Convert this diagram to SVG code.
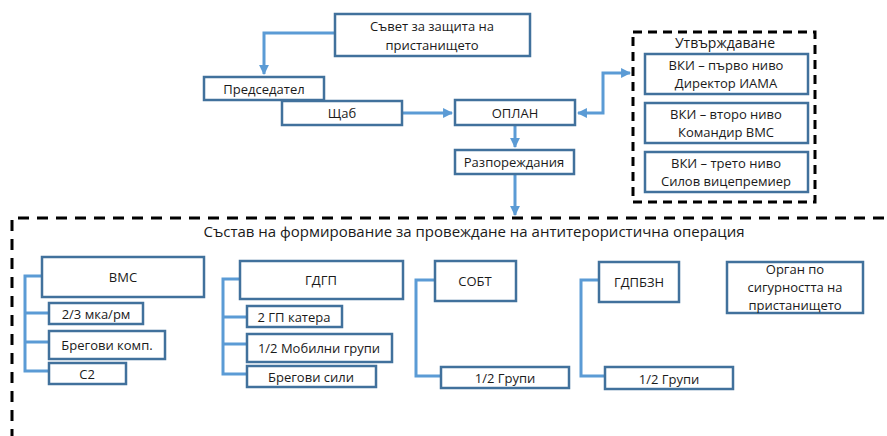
<svg xmlns="http://www.w3.org/2000/svg" width="887" height="436" viewBox="0 0 887 436">
<style>
.b{fill:#fff;stroke:#41719C;stroke-width:2.5}
.c{fill:none;stroke:#5B9BD5;stroke-width:3}
.t{font-family:"Open Sans","Noto Sans","Liberation Sans",sans-serif;font-size:13px;fill:#1a1a1a;text-anchor:middle}
.h{font-size:15px}
.d{fill:none;stroke:#000;stroke-width:3}
</style>
<defs>
<marker id="a" viewBox="0 0 10 10" refX="9" refY="5" markerWidth="3.3" markerHeight="3.3" orient="auto-start-reverse" markerUnits="strokeWidth">
<path d="M0,0 L10,5 L0,10 z" fill="#5B9BD5"/>
</marker>
</defs>
<rect fill="#fff" width="887" height="436"/>
<g id="frame-approval"><rect class="d" x="633" y="32" width="182" height="170" stroke-dasharray="9 6"/><text class="t h" x="725" y="48" style="font-size:14px">Утвърждаване</text></g>
<g id="frame-composition"><path class="d" d="M12,440 V218 H887" stroke-dasharray="11 8"/><text class="t h" x="474" y="237">Състав на формирование за провеждане на антитерористична операция</text></g>
<g id="connectors">
<path class="c" d="M335,33 H264 V74" marker-end="url(#a)"/>
<path class="c" d="M402,113 H452" marker-end="url(#a)"/>
<path class="c" d="M578,113 H603 V73 H630" marker-start="url(#a)" marker-end="url(#a)"/>
<path class="c" d="M515,125 V147" marker-end="url(#a)"/>
<path class="c" d="M515,174 V215" marker-end="url(#a)"/>
<path class="c" d="M42,276 H25 V371 H49 M25,313 H49 M25,342 H49"/>
<path class="c" d="M240,279 H223 V374 H247 M223,317 H247 M223,344 H247"/>
<path class="c" d="M435,280 H416 V376 H441"/>
<path class="c" d="M599,280 H581 V376 H605"/>
</g>
<g id="n-savet"><rect class="b" x="335" y="14" width="195" height="42"/><text class="t" x="432" y="31">Съвет за защита на</text><text class="t" x="432" y="50">пристанището</text></g>
<g id="n-predsedatel"><rect class="b" x="204" y="77" width="120" height="23"/><text class="t" x="264" y="94">Председател</text></g>
<g id="n-shtab"><rect class="b" x="282" y="101" width="120" height="24"/><text class="t" x="342" y="118">Щаб</text></g>
<g id="n-oplan"><rect class="b" x="455" y="100" width="120" height="25"/><text class="t" x="515" y="118">ОПЛАН</text></g>
<g id="n-razp"><rect class="b" x="455" y="150" width="119" height="24"/><text class="t" x="514" y="167">Разпореждания</text></g>
<g id="n-vki1"><rect class="b" x="645" y="54" width="163" height="40"/><text class="t" x="726" y="70">ВКИ – първо ниво</text><text class="t" x="726" y="88">Директор ИАМА</text></g>
<g id="n-vki2"><rect class="b" x="645" y="103" width="163" height="40"/><text class="t" x="726" y="119">ВКИ – второ ниво</text><text class="t" x="726" y="137">Командир ВМС</text></g>
<g id="n-vki3"><rect class="b" x="645" y="152" width="163" height="40"/><text class="t" x="726" y="168">ВКИ – трето ниво</text><text class="t" x="726" y="186">Силов вицепремиер</text></g>
<g id="n-vms"><rect class="b" x="42" y="257" width="162" height="40"/><text class="t" x="123" y="282">ВМС</text></g>
<g id="n-mka"><rect class="b" x="49" y="303" width="94" height="21"/><text class="t" x="96" y="319">2/3 мка/рм</text></g>
<g id="n-bregkomp"><rect class="b" x="49" y="331" width="116" height="28"/><text class="t" x="107" y="350">Брегови комп.</text></g>
<g id="n-c2"><rect class="b" x="49" y="363" width="77" height="21"/><text class="t" x="87" y="379">С2</text></g>
<g id="n-gdgp"><rect class="b" x="240" y="261" width="163" height="38"/><text class="t" x="321" y="285">ГДГП</text></g>
<g id="n-gpkatera"><rect class="b" x="247" y="306" width="95" height="21"/><text class="t" x="294" y="322">2 ГП катера</text></g>
<g id="n-mobilni"><rect class="b" x="247" y="334" width="145" height="28"/><text class="t" x="319" y="353">1/2 Мобилни групи</text></g>
<g id="n-bregsili"><rect class="b" x="247" y="366" width="129" height="21"/><text class="t" x="311" y="382">Брегови сили</text></g>
<g id="n-sobt"><rect class="b" x="435" y="261" width="81" height="40"/><text class="t" x="475" y="286">СОБТ</text></g>
<g id="n-sobt-grupi"><rect class="b" x="441" y="367" width="128" height="21"/><text class="t" x="505" y="383">1/2 Групи</text></g>
<g id="n-gdpbzn"><rect class="b" x="599" y="262" width="80" height="40"/><text class="t" x="639" y="287">ГДПБЗН</text></g>
<g id="n-gdpbzn-grupi"><rect class="b" x="605" y="367" width="128" height="22"/><text class="t" x="669" y="384">1/2 Групи</text></g>
<g id="n-organ"><rect class="b" x="727" y="262" width="136" height="51"/><text class="t" x="795" y="274">Орган по</text><text class="t" x="795" y="292">сигурността на</text><text class="t" x="795" y="310">пристанището</text></g>
</svg>
